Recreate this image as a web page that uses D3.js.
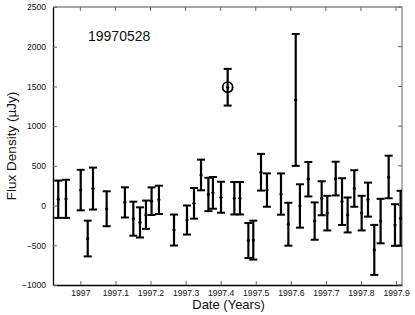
<!DOCTYPE html>
<html>
<head>
<meta charset="utf-8">
<script src="https://cdn.jsdelivr.net/npm/d3@7"></script>
<style>
  body { margin: 0; background: #fff; }
  svg { display: block; font-family: "Liberation Sans", Arial, sans-serif; }
</style>
</head>
<body>
<svg width="415" height="315"></svg>
<script>
// observation dates (decimal years), flux (uJy) and 1-sigma errors
var dates = [1996.937, 1996.959, 1997.001, 1997.021, 1997.036, 1997.075, 1997.127, 1997.151,
    1997.170, 1997.187, 1997.203, 1997.224, 1997.267, 1997.304, 1997.324, 1997.344,
    1997.365, 1997.378, 1997.401, 1997.439, 1997.455, 1997.479, 1997.493, 1997.515,
    1997.532, 1997.572, 1997.593, 1997.614, 1997.626, 1997.650, 1997.668, 1997.688,
    1997.704, 1997.728, 1997.746, 1997.762, 1997.781, 1997.802, 1997.820, 1997.838,
    1997.856, 1997.879, 1997.897, 1997.913];
var flux = [80, 85, 195, -415, 214, -40, 40, -165,
    -212, -115, 55, 72, -308, -182, 28, 385,
    140, 160, 105, 92, 92, -440, -435, 420,
    195, 145, -235, 1330, -5, 332, -195, 92,
    -95, 340, 50, -118, 215, -95, 75, -558,
    -195, 360, -245, -160];
var errs = [235, 240, 255, 225, 264, 220, 190, 214,
    190, 178, 174, 178, 195, 183, 193, 193,
    210, 200, 195, 204, 204, 220, 245, 231,
    210, 260, 270, 830, 273, 217, 235, 214,
    218, 212, 294, 220, 230, 218, 214, 315,
    280, 268, 262, 346];

// the circled detection
var burstDate = [1997.420];
var burstFlux = [1490];
var burstErr = [231];

var yTicks = [-1000, -500, 0, 500, 1000, 1500, 2000, 2500];
var xTicks = [1997, 1997.1, 1997.2, 1997.3, 1997.4, 1997.5, 1997.6, 1997.7, 1997.8, 1997.9];

var points = dates.map(function (d, i) { return {date: d, flux: flux[i], err: errs[i]}; });
var burst = burstDate.map(function (d, i) { return {date: d, flux: burstFlux[i], err: burstErr[i]}; });

var svg = d3.select("svg");
var pLeft = 53, pRight = 402, pTop = 7, pBottom = 285;

var x = d3.scaleLinear().domain([1996.922, 1997.917]).range([pLeft, pRight]);
var y = d3.scaleLinear().domain([-1000, 2500]).range([pBottom, pTop]);

svg.append("defs").append("clipPath").attr("id", "plotclip")
    .append("rect").attr("x", pLeft).attr("y", pTop - 1)
    .attr("width", pRight - pLeft).attr("height", pBottom - pTop + 2);

// frame: top and right lighter, like the original
svg.append("line").attr("x1", pLeft).attr("x2", pRight).attr("y1", pTop).attr("y2", pTop)
    .attr("stroke", "#8a8a8a").attr("stroke-width", 1.3);
svg.append("line").attr("x1", pRight).attr("x2", pRight).attr("y1", pTop).attr("y2", pBottom)
    .attr("stroke", "#8a8a8a").attr("stroke-width", 1.3);

// axes with inward ticks
var xAxis = d3.axisBottom(x).tickValues(xTicks).tickSizeInner(-4).tickSizeOuter(0).tickPadding(5)
    .tickFormat(function (d) { return d3.format(".4~f")(d); });
var gx = svg.append("g").attr("transform", "translate(0," + pBottom + ")").call(xAxis);
var yAxis = d3.axisLeft(y).tickValues(yTicks).tickSizeInner(-4).tickSizeOuter(0).tickPadding(7)
    .tickFormat(function (d) { return d < 0 ? "\u2212" + Math.abs(d) : d; });
var gy = svg.append("g").attr("transform", "translate(" + pLeft + ",0)").call(yAxis);

[gx, gy].forEach(function (g) {
    g.select(".domain").attr("stroke", "#000").attr("stroke-width", 1.3);
    g.selectAll(".tick line").attr("stroke", "#666");
    g.selectAll("text").attr("font-size", "8.6px").attr("fill", "#111")
        .attr("font-family", "Liberation Sans, Arial, sans-serif");
});

// mirrored ticks on top and right
svg.append("g").selectAll("line").data(xTicks).enter().append("line")
    .attr("x1", function (d) { return x(d); }).attr("x2", function (d) { return x(d); })
    .attr("y1", pTop).attr("y2", pTop + 4).attr("stroke", "#666");
svg.append("g").selectAll("line").data(yTicks).enter().append("line")
    .attr("x1", pRight).attr("x2", pRight - 4)
    .attr("y1", function (d) { return y(d); }).attr("y2", function (d) { return y(d); })
    .attr("stroke", "#666");

var plot = svg.append("g").attr("clip-path", "url(#plotclip)");

function drawBars(data) {
    var g = plot.append("g").selectAll("g").data(data).enter().append("g");
    g.append("line")
        .attr("x1", function (d) { return x(d.date); }).attr("x2", function (d) { return x(d.date); })
        .attr("y1", function (d) { return y(d.flux + d.err); })
        .attr("y2", function (d) { return y(d.flux - d.err); })
        .attr("stroke", "#000").attr("stroke-width", 2.2);
    [1, -1].forEach(function (s) {
        g.append("line")
            .attr("x1", function (d) { return x(d.date) - 4; })
            .attr("x2", function (d) { return x(d.date) + 4; })
            .attr("y1", function (d) { return y(d.flux + s * d.err); })
            .attr("y2", function (d) { return y(d.flux + s * d.err); })
            .attr("stroke", "#000").attr("stroke-width", 2);
    });
    g.append("circle")
        .attr("cx", function (d) { return x(d.date); })
        .attr("cy", function (d) { return y(d.flux); })
        .attr("r", 1.6).attr("fill", "#000");
    return g;
}

drawBars(points);
var bg = drawBars(burst);
bg.append("circle")
    .attr("cx", function (d) { return x(d.date); })
    .attr("cy", function (d) { return y(d.flux); })
    .attr("r", 5).attr("fill", "none").attr("stroke", "#000").attr("stroke-width", 1.8);

// labels
svg.append("text").attr("x", 88).attr("y", 41).attr("font-size", "14px").attr("fill", "#111")
    .text("19970528");
svg.append("text").attr("x", (pLeft + pRight) / 2 + 1).attr("y", 309)
    .attr("text-anchor", "middle").attr("font-size", "13px").attr("fill", "#111")
    .text("Date (Years)");
svg.append("text").attr("transform", "translate(16," + ((pTop + pBottom) / 2) + ") rotate(-90)")
    .attr("text-anchor", "middle").attr("font-size", "13.5px").attr("fill", "#111")
    .text("Flux Density (\u00b5Jy)");
</script>
</body>
</html>
